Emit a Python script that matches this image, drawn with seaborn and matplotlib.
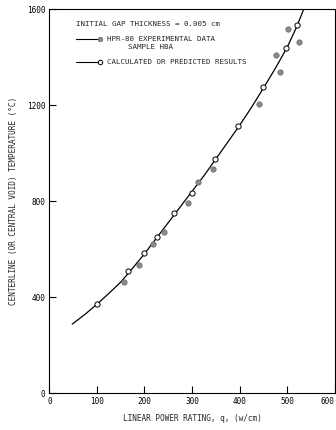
import matplotlib
matplotlib.use("Agg")
import matplotlib.pyplot as plt
import seaborn as sns
import pandas as pd

# Calculated / predicted centreline temperatures (open circles)
calc_q = [100, 165, 198, 226, 263, 299, 349, 397, 450, 497, 520]
calc_t = [372, 507, 582, 649, 749, 832, 974, 1114, 1274, 1436, 1533]

# HPR-80 experimental data, sample HBA (filled circles)
exp_q = [156, 189, 217, 241, 292, 313, 344, 441, 476, 485, 501, 524]
exp_t = [462, 535, 622, 669, 793, 879, 935, 1203, 1407, 1339, 1517, 1461]

# Predicted curve traced along the fit
curve_q = [48, 75, 100, 125, 150, 175, 200, 225, 250, 275, 300, 325, 350,
           375, 400, 425, 450, 475, 500, 520, 535]
curve_t = [287, 328, 370, 415, 462, 520, 580, 645, 710, 775, 840, 905, 975,
           1045, 1115, 1190, 1270, 1352, 1440, 1525, 1600]

x_ticks = [0, 100, 200, 300, 400, 500, 600]
y_ticks = [0, 400, 800, 1200, 1600]

sns.set_style("ticks")
plt.rcParams["font.family"] = ["DejaVu Sans Mono"]

fig = plt.figure(figsize=(3.36, 4.30), dpi=100)
ax = fig.add_axes([0.147, 0.086, 0.849, 0.893])

curve = pd.DataFrame({"q": curve_q, "t": curve_t})
calc = pd.DataFrame({"q": calc_q, "t": calc_t})
exp = pd.DataFrame({"q": exp_q, "t": exp_t})

sns.lineplot(data=curve, x="q", y="t", ax=ax, color="black", lw=0.9,
             sort=False, zorder=2)
sns.scatterplot(data=exp, x="q", y="t", ax=ax, color="#8a8a8a",
                edgecolor="#6a6a6a", linewidth=0.5, s=15, zorder=3)
sns.scatterplot(data=calc, x="q", y="t", ax=ax, color="white",
                edgecolor="black", linewidth=0.7, s=14, zorder=4)

ax.set_xlim(0, 600)
ax.set_ylim(0, 1600)
ax.set_xticks(x_ticks)
ax.set_yticks(y_ticks)
ax.tick_params(direction="in", length=5, width=0.8, labelsize=5.6, pad=3,
               colors="black")
# keep the last x tick label inside the figure
ax.get_xticklabels()[-1].set_horizontalalignment("right")
for s in ax.spines.values():
    s.set_visible(True)
    s.set_linewidth(0.8)
    s.set_color("black")

ax.set_xlabel("LINEAR POWER RATING, q, (w/cm)", fontsize=5.6, labelpad=5.5)
ax.set_ylabel("CENTERLINE (OR CENTRAL VOID) TEMPERATURE (\u00b0C)",
              fontsize=5.6, labelpad=6)

# Key drawn in the upper-left corner
tr = ax.transAxes
fs = 5.4
ax.text(0.093, 0.961, "INITIAL GAP THICKNESS = 0.005 cm", transform=tr,
        fontsize=fs, va="center", ha="left")
ax.plot([0.093, 0.177], [0.922, 0.922], transform=tr, color="black", lw=0.8)
ax.plot([0.177], [0.922], transform=tr, marker="o", ms=3.3, color="#8a8a8a",
        mec="#6a6a6a", mew=0.5, ls="none")
ax.text(0.203, 0.922, "HPR-80 EXPERIMENTAL DATA", transform=tr,
        fontsize=fs, va="center", ha="left")
ax.text(0.276, 0.900, "SAMPLE HBA", transform=tr, fontsize=fs,
        va="center", ha="left")
ax.plot([0.093, 0.177], [0.862, 0.862], transform=tr, color="black", lw=0.8)
ax.plot([0.177], [0.862], transform=tr, marker="o", ms=3.2, color="white",
        mec="black", mew=0.7, ls="none")
ax.text(0.203, 0.862, "CALCULATED OR PREDICTED RESULTS", transform=tr,
        fontsize=fs, va="center", ha="left")

fig.savefig("out.png", dpi=100, facecolor="white")
